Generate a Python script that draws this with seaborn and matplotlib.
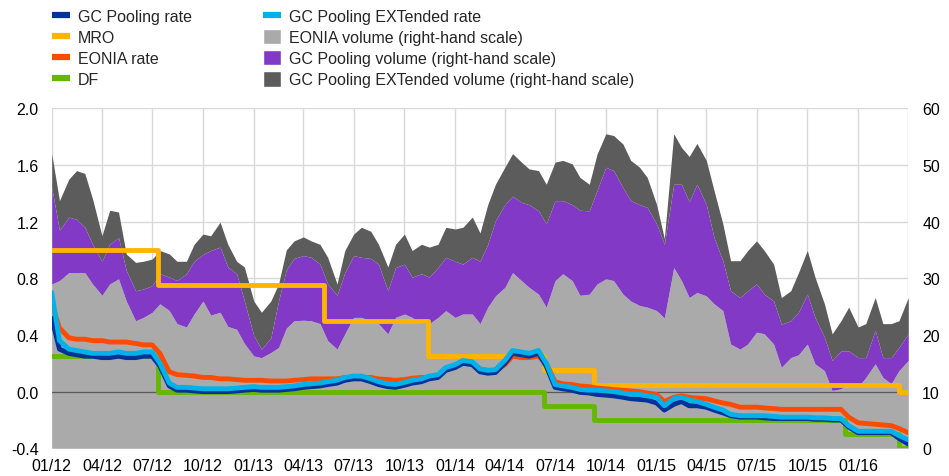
import numpy as np
import pandas as pd
import matplotlib
matplotlib.use("Agg")
import matplotlib.pyplot as plt
import seaborn as sns
from matplotlib.patches import Patch
from matplotlib.lines import Line2D

# ---------------- data ----------------
dates = pd.date_range("2012-01-01", "2016-04-01", freq="SMS")  # 1st and 15th of each month

eonia_vol = [29, 29.6, 31, 31, 31, 29, 27, 29, 29.9, 26,
             22.5, 23.1, 24, 25.5, 24.3, 22, 21.4, 23.7, 26, 23.5,
             24, 21.5, 21, 18.5, 16.3, 16, 16.9, 17.8, 21.2, 22.5,
             22.6, 22.5, 22, 19, 17.5, 20.2, 23.1, 23.1, 22.5, 22,
             20.2, 23.1, 23.7, 23.1, 22, 22, 23.1, 24.3, 23.1, 23.7,
             23.7, 22, 24.9, 26.9, 28.4, 31, 29.6, 28.4, 27.2, 24.9,
             29.6, 30.8, 29.6, 27, 27.2, 29, 29.9, 29.6, 27.2, 26,
             25.2, 24.9, 24.3, 23, 31.9, 29.6, 26.6, 27.5, 26.9, 25.5,
             24.3, 18.4, 17.5, 18.4, 20.5, 20.2, 18.4, 14.3, 16, 16.5,
             18.4, 14.9, 13.7, 10.2, 10.5, 11.4, 10.8, 12.5, 14.9, 12.5,
             11.4, 13.7, 15.5]

gcp_vol = [17.0, 8.9, 9.8, 9.4, 8.0, 7.0, 6.0, 7.0, 7.3, 5.4,
           5.3, 5.0, 4.7, 5.3, 5.9, 7.6, 9.4, 9.3, 8.2, 11.4,
           11.5, 10.5, 9.8, 7.5, 3.6, 1.5, 2.6, 8.2, 10.3, 11.0,
           11.4, 11.2, 10.5, 10.0, 9.5, 10.8, 10.9, 10.6, 11.0, 10.5,
           7.6, 8.8, 8.8, 7.1, 8.8, 8.2, 8.8, 9.4, 9.9, 8.8,
           10.0, 11.0, 11.1, 13.3, 14.6, 13.5, 13.8, 14.6, 14.7, 14.7,
           14.1, 12.9, 13.4, 15.0, 14.7, 16.5, 19.7, 19.4, 18.8, 17.7,
           17.8, 17.6, 15.3, 13.0, 14.7, 17.0, 16.9, 19.1, 16.1, 11.7,
           8.8, 9.4, 9.1, 9.4, 8.5, 7.0, 7.6, 7.6, 6.5, 7.5,
           8.8, 8.2, 5.9, 5.3, 6.7, 5.8, 5.2, 3.5, 5.9, 3.5,
           4.6, 4.1, 4.7]

gcx_vol = [6.0, 5.2, 6.7, 8.6, 9.5, 8.0, 4.5, 6.0, 4.5, 2.9,
           5.0, 4.9, 4.7, 4.1, 4.1, 3.4, 2.2, 3.0, 3.6, 2.6,
           4.4, 4.0, 2.2, 6.0, 6.1, 6.5, 6.5, 3.0, 3.5, 3.1,
           3.3, 2.9, 3.5, 4.7, 2.0, 3.9, 3.8, 5.3, 4.8, 3.5,
           4.2, 4.1, 5.3, 4.7, 5.2, 5.3, 4.1, 5.3, 5.7, 6.5,
           7.1, 5.0, 7.0, 6.4, 6.6, 7.5, 7.1, 6.3, 7.1, 7.0,
           6.8, 7.1, 7.2, 5.8, 4.7, 6.4, 5.9, 6.2, 7.7, 7.1,
           6.6, 5.3, 3.4, 1.0, 8.9, 6.5, 8.0, 7.2, 7.8, 8.3,
           6.5, 5.3, 6.5, 7.1, 7.6, 7.7, 6.5, 4.7, 5.3, 7.0,
           7.7, 7.1, 5.9, 4.7, 5.3, 7.7, 5.4, 6.0, 5.8, 6.0,
           6.0, 4.7, 6.4]

gcx_rate = [0.70, 0.36, 0.30, 0.29, 0.28, 0.27, 0.27, 0.27, 0.28, 0.27,
            0.27, 0.28, 0.28, 0.20, 0.06, 0.03, 0.03, 0.025, 0.02, 0.02,
            0.02, 0.02, 0.025, 0.03, 0.035, 0.03, 0.03, 0.03, 0.035, 0.04,
            0.05, 0.055, 0.06, 0.07, 0.08, 0.10, 0.11, 0.11, 0.09, 0.07,
            0.055, 0.05, 0.065, 0.08, 0.09, 0.11, 0.12, 0.17, 0.19, 0.22,
            0.21, 0.16, 0.15, 0.155, 0.22, 0.29, 0.28, 0.27, 0.29, 0.20,
            0.05, 0.04, 0.03, 0.015, 0.01, 0.01, 0.005, 0.0, -0.01, -0.02,
            -0.02, -0.03, -0.04, -0.10, -0.05, -0.04, -0.06, -0.07, -0.09, -0.11,
            -0.13, -0.16, -0.17, -0.17, -0.17, -0.17, -0.175, -0.18, -0.18, -0.18,
            -0.18, -0.185, -0.185, -0.19, -0.19, -0.24, -0.28, -0.28, -0.28, -0.28,
            -0.28, -0.31, -0.34]

gcp_rate = [0.52, 0.30, 0.27, 0.26, 0.25, 0.25, 0.24, 0.24, 0.25, 0.24,
            0.24, 0.25, 0.25, 0.18, 0.04, 0.01, 0.01, 0.005, 0.0, 0.0,
            0.0, 0.0, 0.005, 0.01, 0.015, 0.01, 0.01, 0.01, 0.015, 0.02,
            0.03, 0.035, 0.04, 0.05, 0.06, 0.08, 0.09, 0.09, 0.07, 0.05,
            0.035, 0.03, 0.045, 0.06, 0.07, 0.09, 0.10, 0.15, 0.17, 0.20,
            0.19, 0.14, 0.13, 0.135, 0.20, 0.27, 0.26, 0.25, 0.27, 0.18,
            0.03, 0.02, 0.01, -0.005, -0.01, -0.02, -0.025, -0.03, -0.04, -0.05,
            -0.055, -0.06, -0.08, -0.13, -0.09, -0.07, -0.10, -0.10, -0.11, -0.13,
            -0.15, -0.17, -0.18, -0.18, -0.18, -0.185, -0.19, -0.19, -0.19, -0.19,
            -0.19, -0.195, -0.195, -0.20, -0.20, -0.25, -0.29, -0.29, -0.29, -0.29,
            -0.29, -0.33, -0.37]

eonia_rate = [0.62, 0.45, 0.38, 0.37, 0.37, 0.36, 0.36, 0.35, 0.35, 0.35,
              0.34, 0.33, 0.33, 0.27, 0.14, 0.12, 0.115, 0.11, 0.10, 0.10,
              0.09, 0.09, 0.085, 0.08, 0.08, 0.08, 0.075, 0.075, 0.075, 0.08,
              0.085, 0.09, 0.09, 0.09, 0.09, 0.10, 0.10, 0.10, 0.10, 0.09,
              0.085, 0.08, 0.085, 0.095, 0.10, 0.10, 0.11, 0.16, 0.18, 0.21,
              0.20, 0.16, 0.15, 0.15, 0.19, 0.25, 0.24, 0.24, 0.25, 0.20,
              0.07, 0.055, 0.05, 0.04, 0.035, 0.025, 0.02, 0.015, 0.01, 0.005,
              0.0, -0.01, -0.02, -0.07, -0.04, -0.03, -0.04, -0.045, -0.05, -0.065,
              -0.08, -0.09, -0.11, -0.11, -0.11, -0.115, -0.12, -0.125, -0.125, -0.125,
              -0.125, -0.125, -0.125, -0.125, -0.125, -0.18, -0.22, -0.225, -0.23, -0.235,
              -0.24, -0.26, -0.29]

policy_dates = pd.to_datetime(["2012-01-01", "2012-07-11", "2013-05-08", "2013-11-13",
                               "2014-06-11", "2014-09-10", "2015-12-09", "2016-03-16",
                               "2016-04-01"])
mro = [1.00, 0.75, 0.50, 0.25, 0.15, 0.05, 0.05, 0.00, 0.00]
df_rate = [0.25, 0.00, 0.00, 0.00, -0.10, -0.20, -0.30, -0.40, -0.40]

tick_dates = pd.date_range("2012-01-01", "2016-04-01", freq="QS")
tick_labels = [d.strftime("%m/%y") for d in tick_dates[:-1]] + [""]

labels = ["GC Pooling rate", "MRO", "EONIA rate", "DF",
          "GC Pooling EXTended rate", "EONIA volume (right-hand scale)",
          "GC Pooling volume (right-hand scale)",
          "GC Pooling EXTended volume (right-hand scale)"]

# ---------------- style ----------------
C_GCP = "#003299"
C_MRO = "#FFB400"
C_EON = "#FF4B00"
C_DF = "#65B800"
C_GCX = "#00B1EA"
C_EVOL = "#AAAAAA"
C_GVOL = "#8139C6"
C_XVOL = "#5C5C5C"

sns.set_theme(style="white")
plt.rcParams["font.family"] = ["Liberation Sans", "DejaVu Sans"]
FS = 11.5

fig = plt.figure(figsize=(9.49, 4.77), dpi=100)
ax = fig.add_axes([0.0545, 0.0581, 0.9026, 0.7128])   # volumes (right-hand scale)
ax2 = ax.twinx()                                       # rates (left-hand scale)

ax.stackplot(dates, eonia_vol, gcp_vol, gcx_vol,
             colors=[C_EVOL, C_GVOL, C_XVOL], linewidth=0)
ax.set_ylim(0, 60)
ax.set_yticks(range(0, 61, 10))
ax.set_xlim(pd.Timestamp("2012-01-01"), pd.Timestamp("2016-04-01"))
ax.set_xticks(tick_dates)
ax.set_xticklabels(tick_labels)
ax.grid(True, color="#D9D9D9", linewidth=1)
ax.set_axisbelow(True)
ax.yaxis.tick_right()
ax.tick_params(axis="y", length=0, pad=10, labelsize=FS, colors="#000000")
ax.tick_params(axis="x", length=0, pad=7, labelsize=FS, colors="#000000")
for s in ax.spines.values():
    s.set_visible(False)

ax2.axhline(0, color="#595959", linewidth=0.9, zorder=1)
sns.lineplot(x=policy_dates, y=df_rate, ax=ax2, color=C_DF, linewidth=3.5,
             drawstyle="steps-post", legend=False)
sns.lineplot(x=policy_dates, y=mro, ax=ax2, color=C_MRO, linewidth=3.5,
             drawstyle="steps-post", legend=False)
sns.lineplot(x=dates, y=eonia_rate, ax=ax2, color=C_EON, linewidth=3.5, legend=False)
sns.lineplot(x=dates, y=gcp_rate, ax=ax2, color=C_GCP, linewidth=3.5, legend=False)
sns.lineplot(x=dates, y=gcx_rate, ax=ax2, color=C_GCX, linewidth=3.5, legend=False)
ax2.set_ylim(-0.4, 2.0)
ax2.set_yticks(np.arange(-0.4, 2.01, 0.4))
ax2.set_yticklabels([f"{v:.1f}" for v in np.arange(-0.4, 2.01, 0.4)])
ax2.yaxis.tick_left()
ax2.tick_params(axis="y", length=0, pad=9.5, labelsize=FS, colors="#000000")
ax2.set_xlim(pd.Timestamp("2012-01-01"), pd.Timestamp("2016-04-01"))
ax2.set_xlabel("")
ax2.set_ylabel("")
ax2.grid(False)
for s in ax2.spines.values():
    s.set_visible(False)

handles = [Line2D([0], [0], color=C_GCP, lw=4.5, solid_capstyle="butt"),
           Line2D([0], [0], color=C_MRO, lw=4.5, solid_capstyle="butt"),
           Line2D([0], [0], color=C_EON, lw=4.5, solid_capstyle="butt"),
           Line2D([0], [0], color=C_DF, lw=4.5, solid_capstyle="butt"),
           Line2D([0], [0], color=C_GCX, lw=4.5, solid_capstyle="butt"),
           Patch(facecolor=C_EVOL), Patch(facecolor=C_GVOL), Patch(facecolor=C_XVOL)]
fig.legend(handles, labels, loc="upper left", bbox_to_anchor=(0.0548, 0.981),
           ncol=2, frameon=False, fontsize=FS, handlelength=1.1, handleheight=1.1,
           handletextpad=0.5, columnspacing=4.5, labelspacing=0.31,
           borderpad=0, borderaxespad=0)

fig.savefig("out.png", dpi=100)
